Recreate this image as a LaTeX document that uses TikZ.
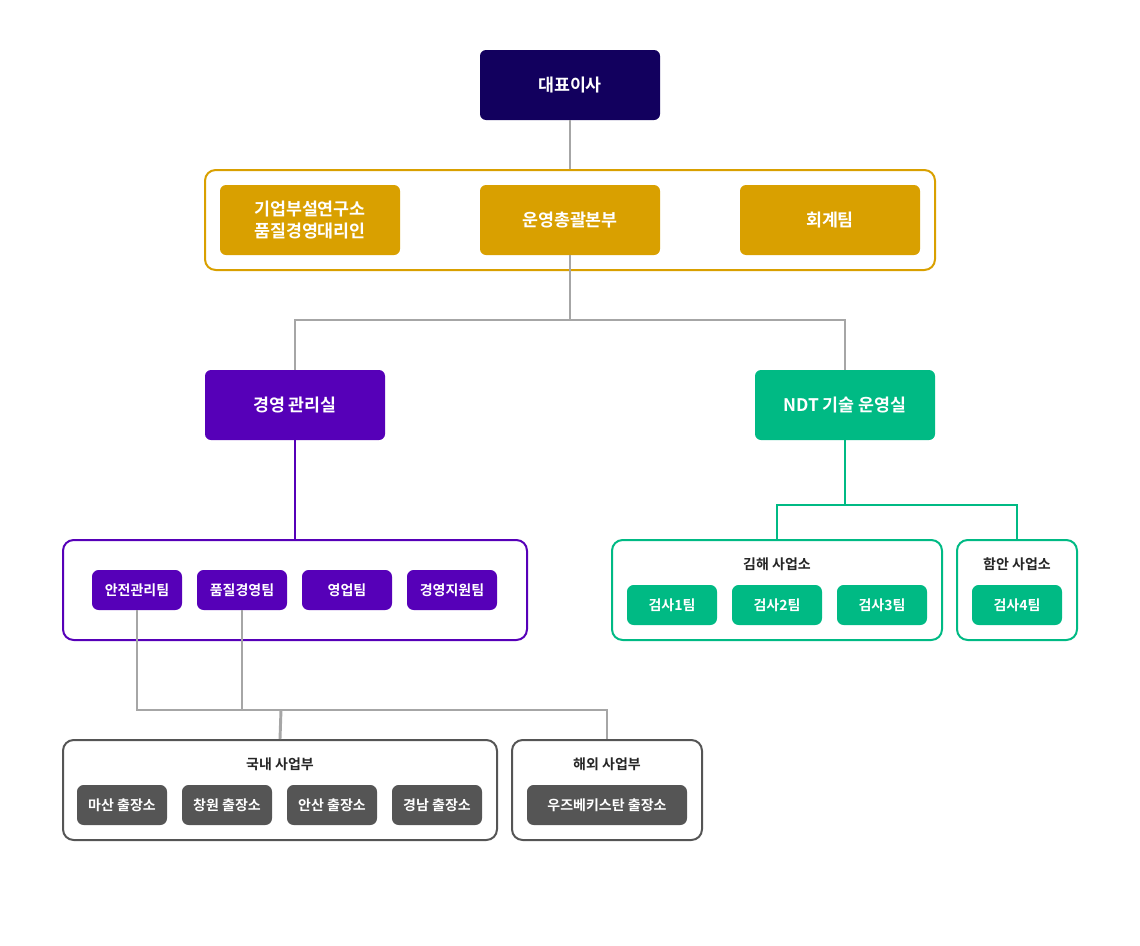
\documentclass[tikz,border=0pt]{standalone}
\usepackage{fontspec}
\setmainfont{Noto Sans CJK KR}[BoldFont={Noto Sans CJK KR Bold}]
\definecolor{navy}{HTML}{12005E}
\definecolor{gold}{HTML}{D9A000}
\definecolor{purp}{HTML}{5600B8}
\definecolor{grn}{HTML}{00BA84}
\definecolor{dgray}{HTML}{555555}
\definecolor{lgray}{HTML}{A6A6A6}
\begin{document}
\begin{tikzpicture}[x=0.75pt,y=-0.75pt,
 big/.style={rounded corners=4.5pt,minimum width=135pt,minimum height=52.5pt,text=white,font=\bfseries\fontsize{13}{16}\selectfont,align=center,inner sep=0pt},
 small/.style={rounded corners=5pt,minimum width=67.5pt,minimum height=30pt,text=white,font=\bfseries\fontsize{10.5}{12}\selectfont,inner sep=0pt},
 cont/.style={rounded corners=8pt,line width=1.5pt,inner sep=0pt},
 ttl/.style={font=\bfseries\fontsize{10.5}{12}\selectfont,text=black!85},
 conn/.style={line width=2.2pt}]
\useasboundingbox (0,0) rectangle (1140,946);
% containers
\node[cont,draw=gold,minimum width=547.5pt,minimum height=75pt] (hq) at (570,220) {};
\node[cont,draw=purp,minimum width=348pt,minimum height=75pt] (teams) at (295,590) {};
\node[cont,draw=dgray,minimum width=325.5pt,minimum height=75pt] (dom) at (280,790) {};
\node[cont,draw=dgray,minimum width=142.5pt,minimum height=75pt] (over) at (607,790) {};
\node[cont,draw=grn,minimum width=247.5pt,minimum height=75pt] (gim) at (777,590) {};
\node[cont,draw=grn,minimum width=90pt,minimum height=75pt] (ham) at (1017,590) {};
% titles
\node[ttl] (domt) at (280,764) {국내 사업부};
\node[ttl] (overt) at (607,764) {해외 사업부};
\node[ttl] (gimt) at (777,564) {김해 사업소};
\node[ttl] (hamt) at (1017,564) {함안 사업소};
% main boxes
\node[big,fill=navy] (ceo) at (570,85) {대표이사};
\node[big,fill=gold] (lab) at (310,220) {기업부설연구소\\품질경영대리인};
\node[big,fill=gold] (ops) at (570,220) {운영총괄본부};
\node[big,fill=gold] (acc) at (830,220) {회계팀};
\node[big,fill=purp] (mgmt) at (295,405) {경영 관리실};
\node[big,fill=grn] (ndt) at (845,405) {NDT 기술 운영실};
% teams
\node[small,fill=purp] (t1) at (137,590) {안전관리팀};
\node[small,fill=purp] (t2) at (242,590) {품질경영팀};
\node[small,fill=purp] (t3) at (347,590) {영업팀};
\node[small,fill=purp] (t4) at (452,590) {경영지원팀};
\node[small,fill=dgray] (b1) at (122,805) {마산 출장소};
\node[small,fill=dgray] (b2) at (227,805) {창원 출장소};
\node[small,fill=dgray] (b3) at (332,805) {안산 출장소};
\node[small,fill=dgray] (b4) at (437,805) {경남 출장소};
\node[small,fill=dgray,minimum width=120pt] (b5) at (607,805) {우즈베키스탄 출장소};
\node[small,fill=grn] (g1) at (672,605) {검사1팀};
\node[small,fill=grn] (g2) at (777,605) {검사2팀};
\node[small,fill=grn] (g3) at (882,605) {검사3팀};
\node[small,fill=grn] (g4) at (1017,605) {검사4팀};
% connectors
\coordinate (j1) at (570,320);
\coordinate (j3) at (281,710);
\coordinate (j4) at (845,505);
\draw[conn,lgray] (ceo.south) -- (hq.north);
\draw[conn,lgray] (ops.south) -- (j1);
\draw[conn,lgray] (mgmt.north) |- (j1) -| (ndt.north);
\draw[conn,purp] (mgmt.south) -- (teams.north);
\draw[conn,lgray] (t1.south) |- (j3) -| (over.north);
\draw[conn,lgray] (t2.south) -- (t2.south |- j3);
\draw[conn,lgray] (j3) -- (dom.north);
\draw[conn,grn] (ndt.south) -- (j4);
\draw[conn,grn] (gim.north) |- (j4) -| (ham.north);
\end{tikzpicture}
\end{document}
